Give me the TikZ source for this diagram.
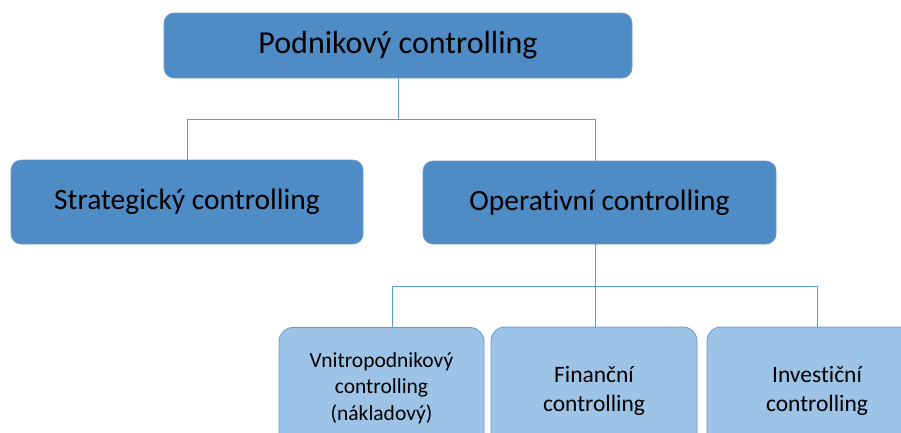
\documentclass[tikz,border=0pt]{standalone}
\usepackage{fontspec}
\setmainfont{Carlito}[Ligatures=NoCommon]
\usepackage{tikz}
\usetikzlibrary{positioning}
\definecolor{darkblue}{HTML}{4F8BC4}
\definecolor{lightblue}{HTML}{9DC3E6}
\definecolor{linkblue}{HTML}{5B9BD5}

\begin{document}
\begin{tikzpicture}[x=1pt, y=-1pt,
    bigbox/.style={fill=darkblue, draw=darkblue!85!white, line width=0.6pt, rounded corners=10pt, inner sep=0pt, text=black},
    smallbox/.style={fill=lightblue, draw=linkblue, line width=0.8pt, rounded corners=14pt, inner sep=0pt, text=black, align=center},
    link/.style={draw=linkblue, line width=0.9pt}]
    \useasboundingbox (0,0) rectangle (901,432);
    \clip (0,0) rectangle (901,432);
    % top level
    \node[bigbox, minimum width=468pt, minimum height=65pt, font=\fontsize{32}{38}\selectfont] (podnik) at (398,45.5) {Podnikový controlling};
    % second level
    \node[bigbox, minimum width=352pt, minimum height=84pt, font=\fontsize{29.5}{35}\selectfont] (strat) at (187,202) {Strategický controlling};
    \node[bigbox, minimum width=353pt, minimum height=83pt, font=\fontsize{29.5}{35}\selectfont] (oper) at (599.5,202.5) {Operativní controlling};
    % third level
    \node[smallbox, minimum width=205pt, minimum height=121pt, font=\fontsize{21.5}{26.5}\selectfont] (vnitro) at (381.5,388) {Vnitropodnikový\\controlling\\(nákladový)};
    \node[smallbox, minimum width=206pt, minimum height=127pt, font=\fontsize{23.5}{29}\selectfont] (financ) at (594,390.5) {Finanční\\controlling};
    \node[smallbox, minimum width=220pt, minimum height=127pt, font=\fontsize{23.5}{29}\selectfont] (invest) at (817,390.5) {Investiční\\controlling};
    % connectors
    \draw[link] (podnik.south) -- ++(0,41) coordinate (busa);
    \draw[link] (busa) -| (strat.north);
    \draw[link] (busa) -| ([xshift=-4.5pt]oper.north);
    \draw[link] ([xshift=-4.5pt]oper.south) -- ++(0,42.5) coordinate (busb);
    \draw[link] (busb) -| ([xshift=10.5pt]vnitro.north);
    \draw[link] (busb) -- (financ.north -| busb);
    \draw[link] (busb) -| (invest.north);
\end{tikzpicture}
\end{document}
